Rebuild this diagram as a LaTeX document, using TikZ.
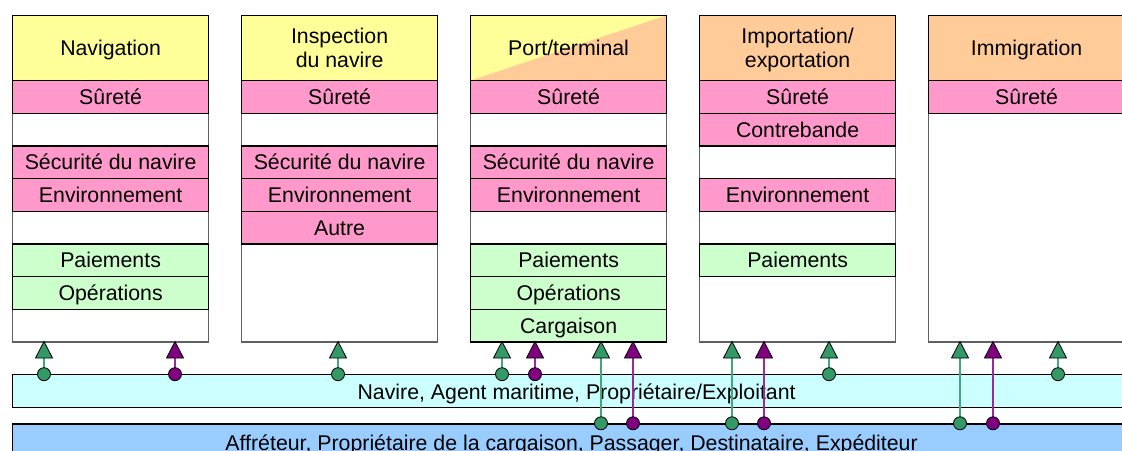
\documentclass[tikz,border=0pt]{standalone}
\usepackage{fontspec}
\setmainfont{Liberation Sans}
\usetikzlibrary{shapes.geometric}

\definecolor{hdyellow}{HTML}{FFFF99}
\definecolor{hdorange}{HTML}{FFCC99}
\definecolor{rowpink}{HTML}{FF99CC}
\definecolor{rowgreen}{HTML}{CCFFCC}
\definecolor{bandcyan}{HTML}{CCFFFF}
\definecolor{bandblue}{HTML}{99CCFF}
\definecolor{mkgreen}{HTML}{339966}
\definecolor{mkpurple}{HTML}{800080}
\definecolor{stemgreen}{HTML}{3DAA78}
\definecolor{stempurple}{HTML}{9A2A9A}
\definecolor{edgegray}{HTML}{606060}

\pgfdeclarelayer{base}
\pgfdeclarelayer{stems}
\pgfsetlayers{base,stems,main}

\tikzset{
  txt/.style={font=\fontsize{21.3}{24}\selectfont, text height=19pt, text depth=4pt},
  colbox/.style={draw=edgegray, fill=white, line width=1.2pt, minimum width=196pt,
    minimum height=326.6pt, inner sep=0pt, anchor=north west},
  cell/.style={txt, draw=black, line width=1.2pt, minimum width=196pt,
    minimum height=32.66pt, inner sep=0pt, anchor=north west},
  pinkcell/.style={fill=rowpink},
  greencell/.style={fill=rowgreen},
  header/.style={cell, minimum height=65.32pt, align=center},
  twolines/.style={text height=43pt, text depth=4pt},
  band/.style={txt, line width=1.2pt, inner sep=0pt, anchor=north west},
  dot/.style={circle, draw=black, line width=0.8pt, minimum size=13pt, inner sep=0pt},
  gdot/.style={dot, fill=mkgreen},
  pdot/.style={dot, fill=mkpurple},
  tri/.style={isosceles triangle, shape border rotate=90, isosceles triangle stretches,
    minimum width=17pt, minimum height=16.5pt, inner sep=0pt, outer sep=0pt,
    draw=black, line width=0.8pt, anchor=apex},
  gtri/.style={tri, fill=mkgreen},
  ptri/.style={tri, fill=mkpurple},
  gstem/.style={draw=stemgreen, line width=1.1pt},
  pstem/.style={draw=stempurple, line width=1.1pt},
}

% one row of a column: name, left x, row index (1..8), style, text
\newcommand\rowcell[5]{\node[cell,#4] (#1) at (#2,{14.7+32.66*(#3+1)}) {#5};}

\begin{document}
\begin{tikzpicture}[x=1pt, y=-1pt]
\useasboundingbox (0,0) rectangle (1122,450);

\begin{pgfonlayer}{base}
  % parties at the bottom
  \node[band, draw=black, fill=bandcyan, minimum width=1128pt, minimum height=32.6pt,
    text depth=2pt] (ship) at (12,374.2)
    {Navire, Agent maritime, Propriétaire/Exploitant};
  \node[band, draw=black, fill=bandblue, minimum width=1118pt, minimum height=37.7pt]
    (cargo) at (12,423.3)
    {Affréteur, Propriétaire de la cargaison, Passager, Destinataire, Expéditeur};

  % column outlines
  \node[colbox] (col1) at (12,14.7) {};
  \node[colbox] (col2) at (241,14.7) {};
  \node[colbox] (col3) at (470,14.7) {};
  \node[colbox] (col4) at (699,14.7) {};
  \node[colbox] (col5) at (928,14.7) {};

  % headers
  \node[header, fill=hdyellow] (h1) at (12,14.7) {Navigation};
  \node[header, twolines, fill=hdyellow] (h2) at (241,14.7) {Inspection\\du navire};
  \node[header, fill=hdyellow,
    path picture={\fill[hdorange] (path picture bounding box.south west)
      -- (path picture bounding box.north east)
      -- (path picture bounding box.south east) -- cycle;}]
    (h3) at (470,14.7) {Port/terminal};
  \node[header, twolines, fill=hdorange] (h4) at (699,14.7) {Importation/\\exportation};
  \node[header, fill=hdorange] (h5) at (928,14.7) {Immigration};

  % Navigation
  \rowcell{n1}{12}{1}{pinkcell}{Sûreté}
  \rowcell{n3}{12}{3}{pinkcell}{Sécurité du navire}
  \rowcell{n4}{12}{4}{pinkcell}{Environnement}
  \rowcell{n6}{12}{6}{greencell}{Paiements}
  \rowcell{n7}{12}{7}{greencell}{Opérations}

  % Inspection du navire
  \rowcell{i1}{241}{1}{pinkcell}{Sûreté}
  \rowcell{i3}{241}{3}{pinkcell}{Sécurité du navire}
  \rowcell{i4}{241}{4}{pinkcell}{Environnement}
  \rowcell{i5}{241}{5}{pinkcell}{Autre}

  % Port/terminal
  \rowcell{p1}{470}{1}{pinkcell}{Sûreté}
  \rowcell{p3}{470}{3}{pinkcell}{Sécurité du navire}
  \rowcell{p4}{470}{4}{pinkcell}{Environnement}
  \rowcell{p6}{470}{6}{greencell}{Paiements}
  \rowcell{p7}{470}{7}{greencell}{Opérations}
  \rowcell{p8}{470}{8}{greencell}{Cargaison}

  % Importation/exportation
  \rowcell{e1}{699}{1}{pinkcell}{Sûreté}
  \rowcell{e2}{699}{2}{pinkcell}{Contrebande}
  \rowcell{e4}{699}{4}{pinkcell}{Environnement}
  \rowcell{e6}{699}{6}{greencell}{Paiements}

  % Immigration
  \rowcell{m1}{928}{1}{pinkcell}{Sûreté}
\end{pgfonlayer}

% markers on the ship band
\node[gdot] (sg1) at (44,374.2) {};   \node[gtri] (tg1) at (44,341.5) {};
\node[pdot] (sp1) at (175,374.2) {};  \node[ptri] (tp1) at (175,341.5) {};
\node[gdot] (sg2) at (338,374.2) {};  \node[gtri] (tg2) at (338,341.5) {};
\node[gdot] (sg3) at (502,374.2) {};  \node[gtri] (tg3) at (502,341.5) {};
\node[pdot] (sp3) at (535,374.2) {};  \node[ptri] (tp3) at (535,341.5) {};
\node[gdot] (sg4) at (829,374.2) {};  \node[gtri] (tg4) at (829,341.5) {};
\node[gdot] (sg5) at (1058,374.2) {}; \node[gtri] (tg5) at (1058,341.5) {};

% markers on the cargo band
\node[gdot] (cg3) at (601,423.3) {};  \node[gtri] (ug3) at (601,341.5) {};
\node[pdot] (cp3) at (633,423.3) {};  \node[ptri] (up3) at (633,341.5) {};
\node[gdot] (cg4) at (732,423.3) {};  \node[gtri] (ug4) at (732,341.5) {};
\node[pdot] (cp4) at (764,423.3) {};  \node[ptri] (up4) at (764,341.5) {};
\node[gdot] (cg5) at (960,423.3) {};  \node[gtri] (ug5) at (960,341.5) {};
\node[pdot] (cp5) at (993,423.3) {};  \node[ptri] (up5) at (993,341.5) {};

\begin{pgfonlayer}{stems}
  \foreach \d/\t in {sg1/tg1, sg2/tg2, sg3/tg3, sg4/tg4, sg5/tg5, cg3/ug3, cg4/ug4, cg5/ug5}
    \draw[gstem] (\d.center) -- (\t.lower side);
  \foreach \d/\t in {sp1/tp1, sp3/tp3, cp3/up3, cp4/up4, cp5/up5}
    \draw[pstem] (\d.center) -- (\t.lower side);
\end{pgfonlayer}
\end{tikzpicture}
\end{document}
